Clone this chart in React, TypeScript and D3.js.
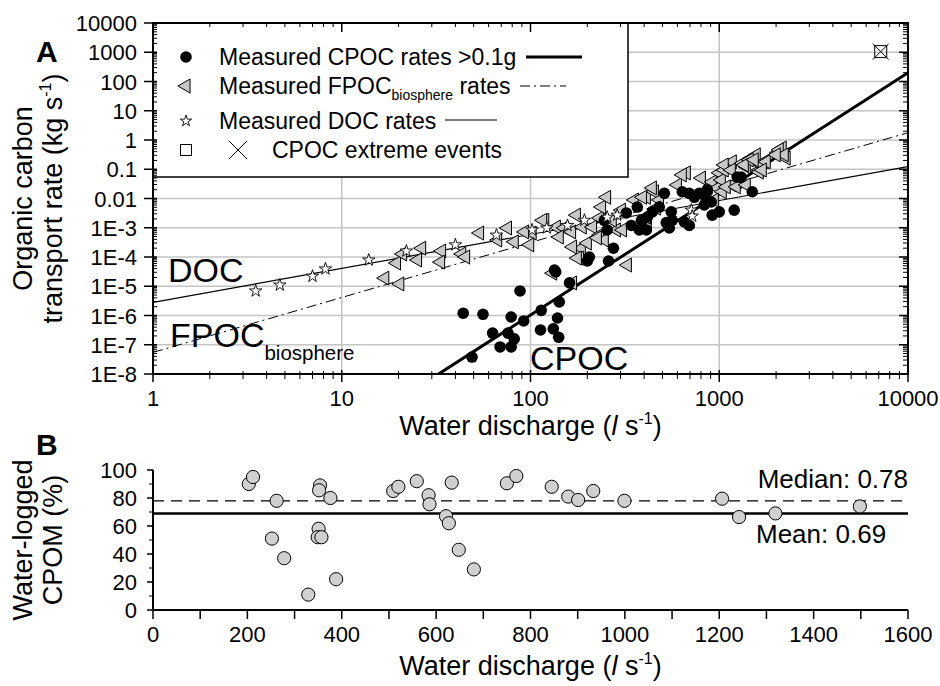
import React from "react";
import * as d3 from "d3";

const FONT = "'Liberation Sans', Arial, Helvetica, sans-serif";

// ---- panel A data (discharge l/s, rate kg/s) ----
const cpocRates: [number, number][] = [
  [44, 1.2e-6], [56, 1.1e-6], [88, 6.9e-6], [136, 3.1e-5], [161, 1.3e-5], [79, 8.9e-7],
  [92, 6.5e-7], [114, 1.5e-6], [142, 2.9e-6], [139, 8.2e-7], [63, 2.5e-7], [76, 2.5e-7],
  [82, 1.6e-7], [69, 8.4e-8], [79, 8.4e-8], [49, 3.8e-8], [113, 3.2e-7], [132, 3.5e-7],
  [141, 1.8e-7], [205, 1e-4], [200, 7.3e-5], [259, 7.3e-5], [275, 2e-4], [246, 1.8e-3],
  [255, 8.4e-4], [322, 3.2e-3], [342, 1.2e-3], [368, 5.1e-3], [392, 1.8e-3], [377, 8.4e-4],
  [416, 2.3e-3], [512, 0.015], [481, 5.1e-3], [442, 3.5e-3], [557, 3.5e-3], [524, 1.5e-3],
  [564, 1.8e-3], [637, 0.017], [694, 0.015], [738, 0.011], [784, 0.015], [864, 0.017],
  [833, 6e-3], [907, 7.6e-3], [918, 2.7e-3], [1000, 3.5e-3], [1200, 4e-3], [1245, 0.054],
  [1307, 0.054], [1496, 0.017], [653, 1.6e-3], [694, 1.2e-3], [544, 9.8e-4], [411, 8.4e-4],
  [387, 1.8e-3], [853, 8.9e-3], [864, 0.02], [134, 3.6e-5],
];

const fpocRates: [number, number][] = [
  [16.9, 1.9e-5], [20.3, 1.2e-5], [19.5, 6.2e-5], [21, 1.27e-4], [26.5, 2e-4], [25.2, 7.9e-5],
  [33.8, 1.6e-4], [33.4, 6.7e-5], [43.2, 1.27e-4], [45.3, 1e-4], [53.7, 6.6e-4], [75.5, 9.8e-4],
  [102, 6.6e-4], [119, 1.8e-3], [137, 1.06e-3], [151, 9.8e-4], [175, 2.7e-3], [165, 7.2e-4],
  [188, 1.06e-3], [232, 2.15e-3], [238, 5.1e-3], [253, 0.011], [213, 1.06e-3], [232, 5.6e-4],
  [246, 3.8e-4], [186, 2e-4], [182, 9.2e-5], [200, 3e-4], [131, 2.8e-5], [167, 1.3e-5],
  [326, 5.3e-5], [285, 8.4e-4], [307, 8.4e-4], [271, 1.8e-3], [303, 4e-3], [355, 8.9e-3],
  [411, 0.011], [453, 0.017], [482, 8.9e-3], [464, 4.7e-3], [600, 0.029], [669, 0.075],
  [804, 0.05], [416, 1.45e-3], [918, 0.037], [976, 0.023], [1000, 0.075], [1130, 0.12],
  [1172, 0.18], [1245, 0.037], [1390, 0.12], [1476, 0.24], [1629, 0.094], [1570, 0.31],
  [2028, 0.36], [2155, 0.53], [2261, 0.24], [1172, 0.029], [1037, 0.017], [941, 8.9e-3],
  [1730, 0.18], [93, 7.2e-4], [116, 1.8e-3], [142, 4.8e-4], [167, 2.2e-4], [177, 9.2e-5],
  [226, 4.5e-4], [392, 0.011], [442, 0.023], [637, 0.064], [1025, 0.043], [1062, 0.094],
  [1324, 0.16], [1442, 0.21], [1667, 0.14], [1774, 0.18], [1089, 0.025], [1230, 0.025],
  [1390, 0.029], [411, 2.3e-3], [1062, 0.14], [1157, 0.094], [1357, 0.14], [1531, 0.21],
  [1629, 0.08], [2077, 0.46], [2208, 0.31], [2004, 0.31], [1690, 0.094], [67, 3.8e-4],
  [82, 3.3e-4], [99, 2.6e-4],
];

const docRates: [number, number][] = [
  [3.5, 6.9e-6], [4.7, 1.1e-5], [7, 2.2e-5], [8.2, 3.9e-5], [13.9, 7.9e-5], [22, 1.6e-4],
  [40, 2.6e-4], [66, 5.6e-4], [102, 8.4e-4], [122, 9.8e-4], [157, 1.2e-3], [193, 1.8e-3],
  [255, 2.3e-3], [288, 2.7e-3], [711, 4e-3], [719, 2.5e-3],
];

const extremeEvents: [number, number][] = [[7170, 1050]];

// power-law fits: rate = a * Q^b
const cpocFit = [5.46e-15, 4.14];
const fpocFit = [5.47e-8, 1.878];
const docFit = [2.82e-6, 1.16];

const xTicksA = [1, 10, 100, 1000, 10000];
const xTickLabelsA = ["1", "10", "100", "1000", "10000"];
const yTicksA = [1e4, 1e3, 100, 10, 1, 0.1, 0.01, 1e-3, 1e-4, 1e-5, 1e-6, 1e-7, 1e-8];
const yTickLabelsA = ["10000", "1000", "100", "10", "1", "0.1", "0.01", "1E-3", "1E-4", "1E-5", "1E-6", "1E-7", "1E-8"];

// ---- panel B data (discharge l/s, water-logged %) ----
const waterLogged: [number, number][] = [
  [203, 90], [212, 95], [262, 78], [252, 51], [278, 37], [329, 11], [354, 89], [352, 85.5],
  [376, 80], [351, 58], [349, 52], [357, 52], [388, 22], [509, 85], [520, 88], [559, 92],
  [584, 82], [586, 75.5], [621, 67], [627, 62], [633, 91], [648, 43], [680, 29], [750, 90.5],
  [770, 95.7], [845, 88], [880, 81], [901, 78.6], [933, 85], [999, 78], [1206, 79.5],
  [1242, 66.4], [1319, 69], [1498, 74],
];
const medianPct = 78;
const meanPct = 69;
const xTicksB = [0, 200, 400, 600, 800, 1000, 1200, 1400, 1600];
const yTicksB = [0, 20, 40, 60, 80, 100];

export default function App() {
  const x = d3.scaleLog().domain([1, 1e4]).range([153, 908]);
  const y = d3.scaleLog().domain([1e-8, 1e4]).range([374, 23]);
  const xB = d3.scaleLinear().domain([0, 1600]).range([153, 908]);
  const yB = d3.scaleLinear().domain([0, 100]).range([610, 470]);

  const line = d3.line<[number, number]>().x((d) => x(d[0])).y((d) => y(d[1]));
  const fitPath = (f: number[]) => line([1, 1e4].map((q) => [q, f[0] * Math.pow(q, f[1])] as [number, number]));

  const minorX: number[] = [];
  for (let e = 0; e < 4; e++) for (let k = 2; k < 10; k++) minorX.push(k * Math.pow(10, e));
  const minorY: number[] = [];
  for (let e = -8; e < 4; e++) for (let k = 2; k < 10; k++) minorY.push(k * Math.pow(10, e));
  const minorXB = d3.range(100, 1600, 200);
  const minorYB = d3.range(10, 100, 20);

  const tri = d3.symbol(d3.symbolTriangle, 85)();
  const star = d3.symbol(d3.symbolStar, 48)();
  const starLeg = d3.symbol(d3.symbolStar, 40)();

  const [x0, x1] = x.range();
  const [yb, yt] = y.range();

  return (
    <svg width={940} height={686} style={{ position: "absolute", left: 0, top: 0 }} fontFamily={FONT}>
      <rect width={940} height={686} fill="#fff" />
      <defs>
        <clipPath id="clipA">
          <rect x={x0} y={yt} width={x1 - x0} height={yb - yt} />
        </clipPath>
      </defs>

      {/* grid */}
      <g stroke="#c4c4c4" strokeWidth={1.5}>
        {xTicksA.slice(1, -1).map((t) => (
          <line key={"gx" + t} x1={x(t)} x2={x(t)} y1={yt} y2={yb} />
        ))}
        {yTicksA.slice(1, -1).map((t) => (
          <line key={"gy" + t} x1={x0} x2={x1} y1={y(t)} y2={y(t)} />
        ))}
      </g>

      {/* fit lines */}
      <g clipPath="url(#clipA)" fill="none" stroke="#000">
        <path d={fitPath(docFit) || ""} strokeWidth={1.2} />
        <path d={fitPath(fpocFit) || ""} strokeWidth={1} strokeDasharray="10,4,2,4" />
        <path d={fitPath(cpocFit) || ""} strokeWidth={3} />
      </g>

      {/* markers */}
      <g fill="#c8c8c8" stroke="#000" strokeWidth={1}>
        {fpocRates.map((d, i) => (
          <path key={"f" + i} d={tri || ""} transform={`translate(${x(d[0])},${y(d[1])}) rotate(-90)`} />
        ))}
      </g>
      <g fill="#000">
        {cpocRates.map((d, i) => (
          <circle key={"c" + i} cx={x(d[0])} cy={y(d[1])} r={5.8} />
        ))}
      </g>
      <g fill="#fff" stroke="#000" strokeWidth={0.9}>
        {docRates.map((d, i) => (
          <path key={"d" + i} d={star || ""} transform={`translate(${x(d[0])},${y(d[1])})`} />
        ))}
      </g>
      <g fill="none" stroke="#000" strokeWidth={1}>
        {extremeEvents.map((d, i) => (
          <g key={"e" + i} transform={`translate(${x(d[0])},${y(d[1])})`}>
            <rect x={-6} y={-6} width={12} height={12} />
            <line x1={-8} y1={-8} x2={8} y2={8} />
            <line x1={-8} y1={8} x2={8} y2={-8} />
          </g>
        ))}
      </g>

      {/* in-plot labels */}
      <text x={168} y={282} fontSize={34}>DOC</text>
      <text x={170} y={347} fontSize={34}>
        FPOC<tspan fontSize={20.5} dy={13}>biosphere</tspan>
      </text>
      <text x={530} y={370} fontSize={34}>CPOC</text>

      {/* legend */}
      <rect x={x0} y={yt} width={475} height={154} fill="#fff" stroke="#000" strokeWidth={1.5} />
      <g fontSize={23}>
        <circle cx={186} cy={57} r={5.8} fill="#000" />
        <text x={219} y={65}>Measured CPOC rates &gt;0.1g</text>
        <line x1={526} x2={582} y1={57} y2={57} stroke="#000" strokeWidth={3} />

        <path d={tri || ""} transform="translate(186,86) rotate(-90)" fill="#c8c8c8" stroke="#000" />
        <text x={219} y={93.5}>
          Measured FPOC<tspan fontSize={14} dy={6.5}>biosphere</tspan>
          <tspan dy={-6.5}> rates</tspan>
        </text>
        <line x1={520} x2={566} y1={86} y2={86} stroke="#000" strokeWidth={1} strokeDasharray="10,4,2,4" />

        <path d={starLeg || ""} transform="translate(186,121)" fill="#fff" stroke="#000" strokeWidth={0.9} />
        <text x={219} y={129}>Measured DOC rates</text>
        <line x1={445} x2={497} y1={120} y2={120} stroke="#000" strokeWidth={1.2} />

        <rect x={180.5} y={144.5} width={11} height={11} fill="none" stroke="#000" />
        <line x1={229} y1={141} x2={247} y2={159} stroke="#000" />
        <line x1={229} y1={159} x2={247} y2={141} stroke="#000" />
        <text x={272} y={157.5}>CPOC extreme events</text>
      </g>

      {/* frame and ticks A */}
      <rect x={x0} y={yt} width={x1 - x0} height={yb - yt} fill="none" stroke="#000" strokeWidth={2} />
      <g stroke="#000" strokeWidth={1}>
        {minorX.map((t) => (
          <g key={"mx" + t}>
            <line x1={x(t)} x2={x(t)} y1={yb - 3} y2={yb + 5} />
            <line x1={x(t)} x2={x(t)} y1={yt} y2={yt + 4} />
          </g>
        ))}
        {minorY.map((t) => (
          <g key={"my" + t}>
            <line x1={x0} x2={x0 + 4} y1={y(t)} y2={y(t)} />
            <line x1={x1 - 5} x2={x1} y1={y(t)} y2={y(t)} />
          </g>
        ))}
      </g>
      <g stroke="#000" strokeWidth={1.5}>
        {xTicksA.map((t) => (
          <g key={"Mx" + t}>
            <line x1={x(t)} x2={x(t)} y1={yb - 4} y2={yb + 8} />
            <line x1={x(t)} x2={x(t)} y1={yt} y2={yt + 9} />
          </g>
        ))}
        {yTicksA.map((t) => (
          <g key={"My" + t}>
            <line x1={x0 - 9} x2={x0 + 4} y1={y(t)} y2={y(t)} />
            <line x1={x1 - 9} x2={x1} y1={y(t)} y2={y(t)} />
          </g>
        ))}
      </g>
      <g fontSize={22}>
        {xTicksA.map((t, i) => (
          <text key={"lx" + t} x={x(t)} y={406} textAnchor="middle">{xTickLabelsA[i]}</text>
        ))}
        {yTicksA.map((t, i) => (
          <text key={"ly" + t} x={137} y={y(t) + 8} textAnchor="end">{yTickLabelsA[i]}</text>
        ))}
      </g>
      <text x={(x0 + x1) / 2} y={435} fontSize={27} textAnchor="middle">
        Water discharge (<tspan fontStyle="italic">l</tspan> s<tspan fontSize={16} dy={-11}>-1</tspan>
        <tspan dy={11}>)</tspan>
      </text>
      <g fontSize={27} textAnchor="middle">
        <text transform={`translate(32,${(yt + yb) / 2}) rotate(-90)`}>Organic carbon</text>
        <text transform={`translate(62,${(yt + yb) / 2}) rotate(-90)`}>
          transport rate (kg s<tspan fontSize={16} dy={-11}>-1</tspan>
          <tspan dy={11}>)</tspan>
        </text>
      </g>
      <text x={36} y={62} fontSize={30} fontWeight="bold">A</text>

      {/* ---- panel B ---- */}
      <line x1={xB(0)} x2={xB(1600)} y1={yB(medianPct)} y2={yB(medianPct)} stroke="#000" strokeWidth={1.3} strokeDasharray="11,7" />
      <line x1={xB(0)} x2={xB(1600)} y1={yB(meanPct)} y2={yB(meanPct)} stroke="#000" strokeWidth={2.5} />
      <g fill="#d0d0d0" stroke="#000" strokeWidth={1}>
        {waterLogged.map((d, i) => (
          <circle key={"w" + i} cx={xB(d[0])} cy={yB(d[1])} r={6.6} />
        ))}
      </g>
      <text x={908} y={488} fontSize={26} textAnchor="end">Median: 0.78</text>
      <text x={756} y={543} fontSize={26}>Mean: 0.69</text>

      <g stroke="#000">
        <line x1={xB(0)} x2={xB(0)} y1={yB(0)} y2={yB(100)} strokeWidth={2} />
        <line x1={xB(0)} x2={xB(1600)} y1={yB(0)} y2={yB(0)} strokeWidth={2} />
        {xTicksB.concat(minorXB).map((t) => (
          <line key={"bx" + t} x1={xB(t)} x2={xB(t)} y1={yB(0)} y2={yB(0) + 9} strokeWidth={1.5} />
        ))}
        {yTicksB.map((t) => (
          <line key={"by" + t} x1={xB(0) - 6} x2={xB(0)} y1={yB(t)} y2={yB(t)} strokeWidth={1.5} />
        ))}
        {minorYB.map((t) => (
          <line key={"bym" + t} x1={xB(0) - 4} x2={xB(0)} y1={yB(t)} y2={yB(t)} strokeWidth={1} />
        ))}
      </g>
      <g fontSize={22}>
        {xTicksB.map((t) => (
          <text key={"lbx" + t} x={xB(t)} y={642} textAnchor="middle">{t}</text>
        ))}
        {yTicksB.map((t) => (
          <text key={"lby" + t} x={137} y={yB(t) + 8} textAnchor="end">{t}</text>
        ))}
      </g>
      <text x={(x0 + x1) / 2} y={675} fontSize={27} textAnchor="middle">
        Water discharge (<tspan fontStyle="italic">l</tspan> s<tspan fontSize={16} dy={-11}>-1</tspan>
        <tspan dy={11}>)</tspan>
      </text>
      <g fontSize={27} textAnchor="middle">
        <text transform={`translate(32,${yB(50)}) rotate(-90)`}>Water-logged</text>
        <text transform={`translate(62,${yB(50)}) rotate(-90)`}>CPOM (%)</text>
      </g>
      <text x={36} y={455} fontSize={30} fontWeight="bold">B</text>
    </svg>
  );
}
